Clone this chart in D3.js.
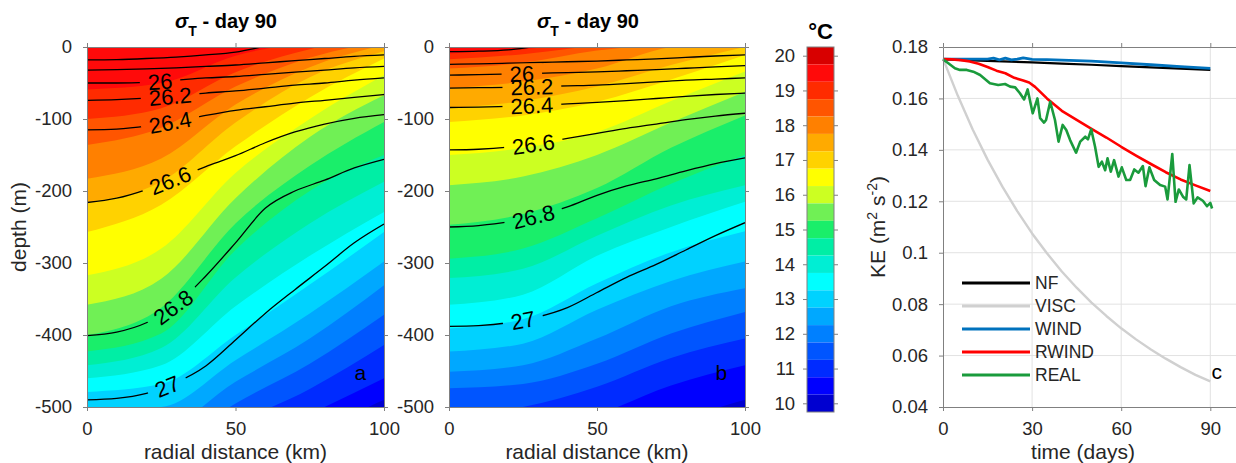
<!DOCTYPE html>
<html>
<head>
<meta charset="utf-8">
<script src="https://cdn.jsdelivr.net/npm/d3@7"></script>
<style>
    body { margin: 0; background: #fff; }
    svg { display: block; font-family: "Liberation Sans", Arial, Helvetica, sans-serif; }
</style>
</head>
<body>
<svg id="chart" width="1236" height="463"></svg>
<script>
// sigma_T sections (a, b), temperature colour bar and KE time series (c)
const FONT = '"Liberation Sans", Arial, Helvetica, sans-serif';
const AXIS_GRAY = '#808080';
const TEXT_GRAY = '#262626';

// ---- temperature bands (deg C), warm to cold ----
const bandCenters = [20, 19.5, 19, 18.5, 18, 17.5, 17, 16.5, 16, 15.5, 15, 14.5, 14, 13.5, 13, 12.5, 12, 11.5, 11, 10.5, 10];
const bandColors = ['#d80000', '#ff0a0a', '#ff2b00', '#ff5500', '#ff8000', '#ffaa00', '#ffd200', '#ffff00',
    '#ccff22', '#70f055', '#1aee6a', '#00eea5', '#00eed4', '#00ffff', '#00d2ff', '#00a8ff', '#0080ff',
    '#0055ff', '#002bff', '#0000ff', '#0000d0'];
const tempLevels = [19.75, 19.25, 18.75, 18.25, 17.75, 17.25, 16.75, 16.25, 15.75, 15.25,
    14.75, 14.25, 13.75, 13.25, 12.75, 12.25, 11.75, 11.25, 10.75, 10.25];
const tempTicks = [10, 11, 12, 13, 14, 15, 16, 17, 18, 19, 20];

// isotherm depths (m) at these radial distances (km), one row per tempLevels entry
const isoKm = [0, 25, 50, 75, 100];
const isoA = [
    [10, 18, 25, 35, 45],
    [-59, -50, -12, 8, 25],
    [-100, -85, -35, -3, 15],
    [-136, -112, -55, -15, 8],
    [-183, -155, -80, -28, 3],
    [-215, -187, -105, -42, -6],
    [-257, -219, -138, -70, -16],
    [-317, -280, -175, -100, -39],
    [-358, -322, -210, -125, -67],
    [-400, -362, -245, -165, -104],
    [-423, -398, -282, -200, -150],
    [-442, -418, -320, -245, -187],
    [-460, -442, -360, -290, -229],
    [-479, -468, -400, -330, -257],
    [-505, -500, -435, -370, -298],
    [-535, -530, -465, -405, -331],
    [-565, -560, -495, -440, -372],
    [-600, -595, -525, -475, -414],
    [-640, -635, -560, -510, -460],
    [-680, -675, -600, -540, -490]
];
const isoB = [
    [3, 10, 20, 30, 40],
    [-9, -3, 6, 16, 26],
    [-17, -10, 2, 10, 20],
    [-30, -22, -5, 5, 15],
    [-57, -48, -30, 0, 8],
    [-85, -75, -55, -25, 0],
    [-104, -95, -76, -45, -11],
    [-150, -140, -118, -75, -34],
    [-192, -180, -150, -105, -62],
    [-247, -232, -196, -140, -95],
    [-294, -280, -238, -190, -150],
    [-321, -308, -262, -220, -192],
    [-358, -344, -290, -250, -215],
    [-391, -378, -328, -285, -256],
    [-423, -412, -365, -325, -298],
    [-451, -442, -405, -360, -335],
    [-474, -468, -440, -398, -368],
    [-510, -500, -472, -432, -405],
    [-540, -530, -510, -470, -442],
    [-580, -570, -550, -520, -490]
];

// sigma_T contour depths (m) at these radial distances (km)
const sigmaLevels = [25.6, 25.8, 26, 26.2, 26.4, 26.6, 26.8, 27];
const sigKm = [0, 10, 20, 30, 40, 50, 60, 70, 80, 90, 100];
const sigmaA = [
    [-18, -17.5, -16, -14, -11, -7, 1, 9, 17, 25, 33],
    [-32, -31.5, -30.5, -29, -27, -25, -22, -19, -16, -13, -11],
    [-50, -50, -49, -46, -43, -41, -38, -35, -32, -29, -27],
    [-74, -73, -71, -68, -64, -61, -57, -53, -50, -46, -43],
    [-115, -114, -110, -103, -95, -88, -83, -78, -74, -70, -66],
    [-216, -210, -198, -182, -166, -151, -133, -118, -107, -99, -94],
    [-401, -396, -383, -358, -318, -272, -224, -200, -185, -168, -156],
    [-490, -488, -481, -466, -443, -407, -370, -337, -305, -272, -246]
];
const sigmaB = [
    [-6.5, -5.8, -4, 1, 5, 9, 13, 17, 21, 25, 29],
    [-24, -23.5, -22.5, -21.5, -20.5, -19.5, -18, -16.5, -14.5, -12.5, -11],
    [-39, -38.5, -37.5, -36.5, -35.5, -34.5, -33, -31.5, -29.5, -27.5, -26],
    [-57, -56.5, -56, -55, -54, -53, -51, -48.5, -46, -44.5, -43],
    [-84, -83.5, -82.5, -81, -79, -77, -74.5, -71.5, -68.5, -66, -64],
    [-143, -142, -139, -134, -127, -120, -113, -107, -101, -96, -92],
    [-250, -248, -243, -234, -222, -206, -193, -183, -172, -162, -154],
    [-388, -387, -383, -375, -362, -341, -320, -302, -282, -262, -244]
];
// radial distance (km) where each contour carries its label (null = unlabelled)
const labelKmA = [null, null, 24.6, 28, 28, 28, 29, 27];
const labelKmB = [null, null, 24.6, 28, 28, 28.5, 28.5, 25];

const kmTicks = [0, 50, 100];
const depthTicks = [0, -100, -200, -300, -400, -500];

// ---- panel c: kinetic energy (m2 s-2) vs time (days) ----
const dayTicks = [0, 30, 60, 90];
const keTicks = [0.04, 0.06, 0.08, 0.1, 0.12, 0.14, 0.16, 0.18];

const nfDays = [0, 10, 20, 30, 40, 50, 60, 70, 80, 90];
const nfKE = [0.1752, 0.1748, 0.1744, 0.1740, 0.1735, 0.1731, 0.1726, 0.1721, 0.1716, 0.1711];

const viscDays = [0, 5, 10, 15, 20, 25, 30, 35, 40, 45, 50, 55, 60, 65, 70, 75, 80, 85, 90];
const viscKE = [0.1755, 0.1610, 0.1479, 0.1362, 0.1257, 0.1162, 0.1075, 0.0998, 0.0927, 0.0864,
    0.0806, 0.0754, 0.0706, 0.0663, 0.0624, 0.0588, 0.0555, 0.0525, 0.0500];

const windDays = [0, 5, 10, 15, 17, 19, 21, 23, 25, 27, 28, 30, 35, 40, 50, 60, 70, 80, 90];
const windKE = [0.1753, 0.1753, 0.1753, 0.1753, 0.1757, 0.1750, 0.1757, 0.1750, 0.1753, 0.1758,
    0.1756, 0.1752, 0.1751, 0.1749, 0.1745, 0.1738, 0.1731, 0.1724, 0.1717];

const rwindDays = [0, 3, 6, 9, 12, 15, 18, 21, 24, 27, 29, 31, 35, 40, 45, 50, 55, 60, 65, 70, 75, 80, 85, 90];
const rwindKE = [0.1753, 0.1752, 0.1749, 0.1744, 0.1735, 0.1722, 0.1708, 0.1698, 0.1680, 0.1670, 0.1662, 0.1645,
    0.1600, 0.1552, 0.1517, 0.1482, 0.1448, 0.1412, 0.1378, 0.1345, 0.1313, 0.1285, 0.1262, 0.1240];

// REAL as [day, KE] pairs
const realPoints = [
    [0, 0.1752], [1.8, 0.1737], [4.0, 0.1717], [5.7, 0.1711], [8.0, 0.1711], [10.2, 0.1704],
    [12.5, 0.1691], [14.5, 0.1672], [15.8, 0.1659], [18.6, 0.1652], [20.9, 0.1656], [22.6, 0.1646],
    [24.3, 0.1643], [25.9, 0.1620], [27.3, 0.1596], [28.5, 0.1635], [30.2, 0.1542], [31.8, 0.1600],
    [32.7, 0.1523], [34.0, 0.1506], [34.7, 0.1516], [36.1, 0.1587], [37.7, 0.1516], [38.9, 0.1432],
    [40.3, 0.1497], [41.5, 0.1477], [42.8, 0.1438], [44.8, 0.1389], [46.2, 0.1432], [47.9, 0.1451],
    [48.8, 0.1441], [49.9, 0.1480], [51.2, 0.1412], [52.4, 0.1334], [53.5, 0.1354], [54.6, 0.1321],
    [55.4, 0.1367], [56.5, 0.1315], [57.6, 0.1360], [59.1, 0.1296], [60.2, 0.1332], [61.7, 0.1283],
    [63.0, 0.1283], [64.4, 0.1324], [65.8, 0.1311], [67.3, 0.1337], [68.2, 0.1259], [69.5, 0.1332],
    [71.1, 0.1283], [73.1, 0.1263], [74.8, 0.1257], [75.6, 0.1207], [77.2, 0.1384], [78.3, 0.1198],
    [79.4, 0.1246], [80.8, 0.1218], [81.9, 0.1207], [83.0, 0.1341], [84.4, 0.1192], [85.7, 0.1215],
    [87.5, 0.1202], [88.9, 0.1181], [90.0, 0.1194], [90.6, 0.1172]
];

const seriesNames = ['NF', 'VISC', 'WIND', 'RWIND', 'REAL'];
const seriesColors = ['#000000', '#d0d0d0', '#0072bd', '#ff0000', '#1a9b3c'];

const svg = d3.select('#chart');
const defs = svg.append('defs');

function styleAxis(g) {
    g.attr('font-size', null).attr('font-family', null);
    g.selectAll('path, line').attr('stroke', AXIS_GRAY);
    g.selectAll('text').attr('fill', TEXT_GRAY).style('font-size', '18.5px').style('font-family', FONT);
}

function addAxis(gen, tx, ty) {
    const g = svg.append('g').attr('transform', `translate(${tx},${ty})`).call(gen);
    styleAxis(g);
    return g;
}

function drawSection(p) {
    const x = d3.scaleLinear().domain([0, 100]).range([p.left, p.right]);
    const y = d3.scaleLinear().domain([-500, 0]).range([p.bottom, p.top]);

    defs.append('clipPath').attr('id', 'clip-' + p.id)
        .append('rect')
        .attr('x', p.left).attr('y', p.top)
        .attr('width', p.right - p.left).attr('height', p.bottom - p.top);

    const mask = defs.append('mask').attr('id', 'mask-' + p.id)
        .attr('maskUnits', 'userSpaceOnUse')
        .attr('x', 0).attr('y', 0).attr('width', 1236).attr('height', 463);
    mask.append('rect').attr('width', 1236).attr('height', 463).attr('fill', '#fff');

    // filled temperature bands: paint each colder band from its isotherm downwards
    const fills = svg.append('g').attr('clip-path', `url(#clip-${p.id})`);
    fills.append('rect')
        .attr('x', p.left).attr('y', p.top)
        .attr('width', p.right - p.left).attr('height', p.bottom - p.top)
        .attr('fill', bandColors[0]);

    const area = d3.area()
        .curve(d3.curveMonotoneX)
        .x(d => x(d[0]))
        .y0(d => y(d[1]))
        .y1(y(-800));

    p.iso.forEach((row, i) => {
        fills.append('path')
            .attr('d', area(isoKm.map((k, j) => [k, row[j]])))
            .attr('fill', bandColors[i + 1]);
    });

    // sigma_T contours with labels cut into the line
    const line = d3.line()
        .curve(d3.curveMonotoneX)
        .x(d => x(d[0]))
        .y(d => y(d[1]));

    const lines = svg.append('g').attr('clip-path', `url(#clip-${p.id})`)
        .append('g').attr('mask', `url(#mask-${p.id})`);
    const labelG = svg.append('g');

    p.sigma.forEach((row, i) => {
        const path = lines.append('path')
            .attr('d', line(sigKm.map((k, j) => [k, row[j]])))
            .attr('fill', 'none')
            .attr('stroke', '#000')
            .attr('stroke-width', 1.3);

        const km = p.labelKm[i];
        if (km == null) return;

        const node = path.node();
        const L = node.getTotalLength();
        const tx = x(km);
        let lo = 0, hi = L;
        for (let k = 0; k < 40; k++) {
            const mid = (lo + hi) / 2;
            if (node.getPointAtLength(mid).x < tx) lo = mid; else hi = mid;
        }
        const c = node.getPointAtLength(lo);
        const a = node.getPointAtLength(Math.max(0, lo - 6));
        const b = node.getPointAtLength(Math.min(L, lo + 6));
        const ang = Math.atan2(b.y - a.y, b.x - a.x) * 180 / Math.PI;
        const tf = `translate(${c.x},${c.y}) rotate(${ang})`;

        const t = labelG.append('text')
            .attr('transform', tf)
            .attr('text-anchor', 'middle')
            .attr('dy', '0.36em')
            .attr('fill', '#000')
            .style('font-size', '22px')
            .text(sigmaLevels[i]);
        const tw = t.node().getComputedTextLength();
        mask.append('rect')
            .attr('x', -tw / 2 - 8).attr('y', -10)
            .attr('width', tw + 16).attr('height', 20)
            .attr('transform', tf)
            .attr('fill', '#000');
    });

    // axes (box with outward ticks)
    addAxis(d3.axisBottom(x).tickValues(kmTicks).tickSize(4).tickSizeOuter(0).tickPadding(11).tickFormat(d => d), 0, p.bottom);
    addAxis(d3.axisTop(x).tickValues(kmTicks).tickSize(4).tickSizeOuter(0).tickFormat(''), 0, p.top);
    addAxis(d3.axisLeft(y).tickValues(depthTicks).tickSize(4).tickSizeOuter(0).tickPadding(11).tickFormat(d => d), p.left, 0);
    addAxis(d3.axisRight(y).tickValues(depthTicks).tickSize(4).tickSizeOuter(0).tickFormat(''), p.right, 0);

    // title
    const title = svg.append('text')
        .attr('x', p.titleX).attr('y', 28)
        .attr('text-anchor', 'middle')
        .attr('fill', '#000')
        .style('font-weight', 'bold')
        .style('font-size', '20px');
    title.append('tspan').style('font-style', 'italic').text('σ');
    title.append('tspan').attr('dy', 8).style('font-size', '14px').text('T');
    title.append('tspan').attr('dy', -8).text(' - day 90');

    svg.append('text')
        .attr('x', (p.left + p.right) / 2).attr('y', 459)
        .attr('text-anchor', 'middle')
        .attr('fill', TEXT_GRAY)
        .style('font-size', '21px')
        .text('radial distance (km)');

    if (p.yLabel) {
        svg.append('text')
            .attr('transform', `translate(26,${(p.top + p.bottom) / 2}) rotate(-90)`)
            .attr('text-anchor', 'middle')
            .attr('fill', TEXT_GRAY)
            .style('font-size', '21px')
            .text(p.yLabel);
    }

    svg.append('text')
        .attr('x', x(92)).attr('y', y(-463))
        .attr('text-anchor', 'middle')
        .attr('fill', '#000')
        .style('font-size', '21px')
        .text(p.letter);
}

drawSection({ id: 'a', left: 87, right: 384, top: 47, bottom: 407, titleX: 226,
    iso: isoA, sigma: sigmaA, labelKm: labelKmA, letter: 'a', yLabel: 'depth (m)' });
drawSection({ id: 'b', left: 449, right: 745, top: 47, bottom: 407, titleX: 588,
    iso: isoB, sigma: sigmaB, labelKm: labelKmB, letter: 'b', yLabel: null });

// ---- colour bar ----
const cbLeft = 807, cbRight = 834;
const cbY = d3.scaleLinear().domain([9.75, 20.25]).range([412, 47]);

svg.append('g').selectAll('rect')
    .data(bandCenters)
    .enter()
    .append('rect')
    .attr('x', cbLeft)
    .attr('width', cbRight - cbLeft)
    .attr('y', d => cbY(d + 0.25))
    .attr('height', d => cbY(d - 0.25) - cbY(d + 0.25))
    .attr('fill', (d, i) => bandColors[i]);

svg.append('rect')
    .attr('x', cbLeft).attr('y', cbY(20.25))
    .attr('width', cbRight - cbLeft).attr('height', cbY(9.75) - cbY(20.25))
    .attr('fill', 'none').attr('stroke', AXIS_GRAY);

addAxis(d3.axisLeft(cbY).tickValues(tempTicks).tickSize(4).tickSizeOuter(0).tickPadding(8).tickFormat(d => d), cbLeft, 0)
    .select('.domain').remove();
addAxis(d3.axisRight(cbY).tickValues(tempTicks).tickSize(4).tickSizeOuter(0).tickFormat(''), cbRight, 0)
    .select('.domain').remove();

svg.append('text')
    .attr('x', (cbLeft + cbRight) / 2).attr('y', 39)
    .attr('text-anchor', 'middle')
    .attr('fill', '#000')
    .style('font-weight', 'bold')
    .style('font-size', '22px')
    .text('°C');

// ---- panel c ----
const xC = d3.scaleLinear().domain([0, 100]).range([943, 1240]);
const yC = d3.scaleLinear().domain([0.04, 0.18]).range([407, 47]);

const grid = svg.append('g').attr('stroke', '#e2e2e2').attr('stroke-width', 1);
grid.selectAll('line.h')
    .data(keTicks.slice(1, -1))
    .enter()
    .append('line')
    .attr('x1', xC(0)).attr('x2', xC(100))
    .attr('y1', d => yC(d)).attr('y2', d => yC(d));
grid.selectAll('line.v')
    .data(dayTicks.slice(1))
    .enter()
    .append('line')
    .attr('x1', d => xC(d)).attr('x2', d => xC(d))
    .attr('y1', yC(0.04)).attr('y2', yC(0.18));

const keLine = d3.line().x(d => xC(d[0])).y(d => yC(d[1]));
const zip = (xs, ys) => xs.map((v, i) => [v, ys[i]]);
const seriesData = [
    zip(nfDays, nfKE),
    zip(viscDays, viscKE),
    zip(windDays, windKE),
    zip(rwindDays, rwindKE),
    realPoints
];
const seriesWidths = [2.2, 2.4, 2.8, 2.6, 2.6];
const drawOrder = [1, 0, 2, 3, 4];

const linesC = svg.append('g');
drawOrder.forEach(i => {
    linesC.append('path')
        .attr('d', keLine(seriesData[i]))
        .attr('fill', 'none')
        .attr('stroke', seriesColors[i])
        .attr('stroke-width', seriesWidths[i])
        .attr('stroke-linejoin', 'round');
});

addAxis(d3.axisBottom(xC).tickValues(dayTicks).tickSize(4).tickSizeOuter(0).tickPadding(11).tickFormat(d => d), 0, 407);
addAxis(d3.axisTop(xC).tickValues(dayTicks).tickSize(4).tickSizeOuter(0).tickFormat(''), 0, 47);
addAxis(d3.axisLeft(yC).tickValues(keTicks).tickSize(4).tickSizeOuter(0).tickPadding(11).tickFormat(d => String(+d.toFixed(2))), 943, 0);

// legend
const legend = svg.append('g').attr('transform', 'translate(962,283)');
seriesNames.forEach((name, i) => {
    const row = legend.append('g').attr('transform', `translate(0,${i * 23})`);
    row.append('line')
        .attr('x1', 0).attr('x2', 68)
        .attr('stroke', seriesColors[i])
        .attr('stroke-width', 3);
    row.append('text')
        .attr('x', 73).attr('y', 0)
        .attr('dy', '0.36em')
        .attr('fill', TEXT_GRAY)
        .style('font-size', '17.5px')
        .text(name);
});

svg.append('text')
    .attr('x', xC(90.4)).attr('y', yC(0.051))
    .attr('fill', '#000')
    .style('font-size', '21px')
    .text('c');

svg.append('text')
    .attr('x', 1083).attr('y', 459)
    .attr('text-anchor', 'middle')
    .attr('fill', TEXT_GRAY)
    .style('font-size', '21px')
    .text('time (days)');

const keLabel = svg.append('text')
    .attr('transform', 'translate(885,227) rotate(-90)')
    .attr('text-anchor', 'middle')
    .attr('fill', TEXT_GRAY)
    .style('font-size', '21px');
keLabel.append('tspan').text('KE (m');
keLabel.append('tspan').attr('dy', -8).style('font-size', '14px').text('2');
keLabel.append('tspan').attr('dy', 8).text(' s');
keLabel.append('tspan').attr('dy', -8).style('font-size', '14px').text('-2');
keLabel.append('tspan').attr('dy', 8).text(')');
</script>
</body>
</html>
